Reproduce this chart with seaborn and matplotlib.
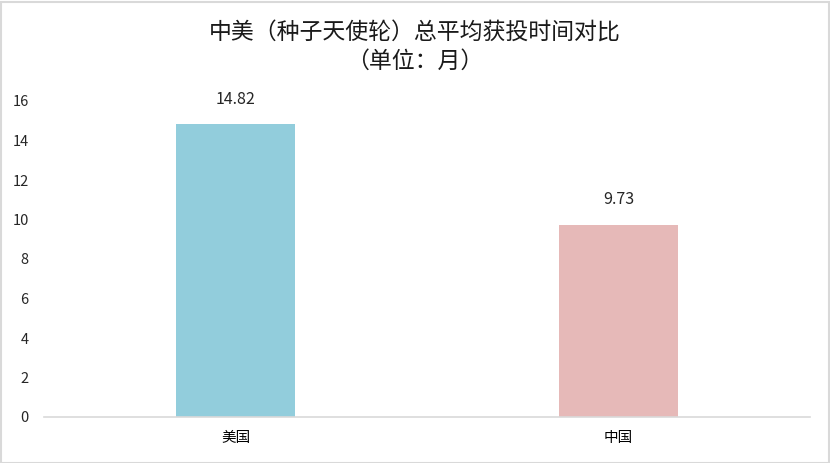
import matplotlib
matplotlib.use("Agg")
import matplotlib.pyplot as plt
import seaborn as sns
import pandas as pd
from matplotlib.patches import Rectangle

countries = ["美国", "中国"]
months = [14.82, 9.73]
value_labels = ["14.82", "9.73"]
colors = ["#92CDDC", "#E6B9B8"]
yticks = [0, 2, 4, 6, 8, 10, 12, 14, 16]
title = "中美（种子天使轮）总平均获投时间对比\n（单位：月）"

sns.set_theme(style="white")
plt.rcParams["font.family"] = ["Noto Sans CJK SC", "DejaVu Sans"]

df = pd.DataFrame({"country": countries, "months": months})

fig = plt.figure(figsize=(8.3, 4.63), dpi=100)
ax = fig.add_axes([44 / 830, 46 / 463, 766 / 830, (417 - 101) / 463])

sns.barplot(data=df, x="country", y="months", hue="country", palette=colors,
            width=0.31, legend=False, ax=ax, saturation=1, linewidth=0)

for i, (v, lab) in enumerate(zip(months, value_labels)):
    ax.annotate(lab, (i, v), xytext=(0, 12), textcoords="offset points",
                ha="center", va="bottom", fontsize=11.5, color="#262626")

ax.set_ylim(0, 16)
ax.set_xlim(-0.5, 1.5)
ax.set_yticks(yticks)
ax.set_yticklabels([str(t) for t in yticks], fontsize=10.5, color="#262626")
ax.tick_params(axis="x", labelsize=10.5, colors="#000000", length=0, pad=10)
ax.tick_params(axis="y", length=0, pad=11)
ax.set_xlabel("")
ax.set_ylabel("")
for s in ["top", "right", "left"]:
    ax.spines[s].set_visible(False)
ax.spines["bottom"].set_color("#D9D9D9")
ax.spines["bottom"].set_linewidth(1.2)

fig.text(0.5, 1 - 47 / 463, title, ha="center", va="center", fontsize=16.5,
         color="#1a1a1a", linespacing=1.3)

fig.patches.append(Rectangle((0.5 / 830, 0.5 / 463), 828 / 830, 461 / 463,
                             transform=fig.transFigure, fill=False,
                             edgecolor="#D9D9D9", linewidth=1.5))

fig.savefig("out.png", dpi=100)
